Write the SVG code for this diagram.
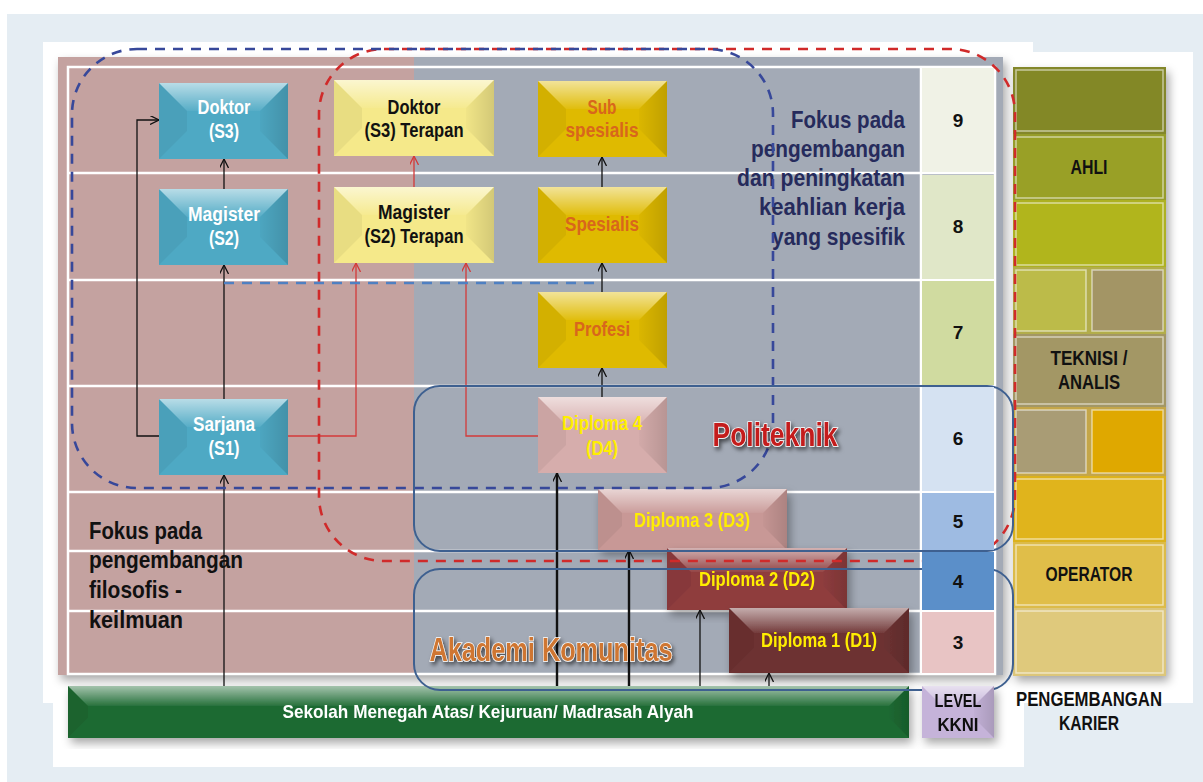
<svg xmlns="http://www.w3.org/2000/svg" width="1203" height="782" viewBox="0 0 1203 782">
<defs>
<style>
.t{font-family:"Liberation Sans",Arial,sans-serif;font-weight:bold;text-anchor:middle}
.nw{fill:#ffffff;font-size:20px}
.nb{fill:#111111;font-size:20px}
.no{fill:#d8661c;font-size:20px}
.ny{fill:#ffee00;font-size:20px}
.lv{fill:#111111;font-size:19px}
.cr{fill:#111111;font-size:20px}
.fr{fill:#262b5c;font-size:24px;text-anchor:end}
.fl{fill:#111111;font-size:24px;text-anchor:start}
.grid{stroke:#ffffff;stroke-width:2.5;fill:none}
.top{fill:url(#gTop)}
.lft{fill:#000000;fill-opacity:0.05}
.rgt{fill:url(#gRight)}
.cb{fill:none;stroke:#111111;stroke-width:1.3;marker-end:url(#ab)}
.cbt{fill:none;stroke:#111111;stroke-width:2.4;marker-end:url(#ab)}
.cr1{fill:none;stroke:#d33a3a;stroke-width:1.3;marker-end:url(#ar)}
.dsh{fill:none;stroke-width:2.6;stroke-dasharray:10 8}
.sol{fill:none;stroke:#3e6090;stroke-width:2}
.cell{stroke:#ffffff;stroke-opacity:0.55;stroke-width:1.5}
</style>
<linearGradient id="gTop" x1="0" y1="0" x2="0" y2="1">
<stop offset="0" stop-color="#ffffff" stop-opacity="0.6"/>
<stop offset="1" stop-color="#ffffff" stop-opacity="0.05"/>
</linearGradient>
<linearGradient id="gRight" x1="0" y1="0" x2="1" y2="0">
<stop offset="0" stop-color="#000000" stop-opacity="0.02"/>
<stop offset="1" stop-color="#000000" stop-opacity="0.14"/>
</linearGradient>
<filter id="sh" x="-10%" y="-10%" width="130%" height="130%">
<feDropShadow dx="3" dy="5" stdDeviation="5" flood-color="#000000" flood-opacity="0.35"/>
</filter>
<filter id="tsh" x="-10%" y="-20%" width="130%" height="160%">
<feDropShadow dx="2" dy="3" stdDeviation="2" flood-color="#000000" flood-opacity="0.6"/>
</filter>
<marker id="ab" viewBox="0 0 10 10" refX="10" refY="5" markerWidth="9" markerHeight="9" markerUnits="userSpaceOnUse" orient="auto">
<path d="M0,0 L10,5 L0,10" fill="none" stroke="#111111" stroke-width="1.4"/>
</marker>
<marker id="ar" viewBox="0 0 10 10" refX="10" refY="5" markerWidth="9" markerHeight="9" markerUnits="userSpaceOnUse" orient="auto">
<path d="M0,0 L10,5 L0,10" fill="none" stroke="#d33a3a" stroke-width="1.4"/>
</marker>
</defs>

<!-- page background -->
<rect x="0" y="0" width="1203" height="782" fill="#ffffff"/>
<rect x="7" y="14" width="1196" height="768" fill="#e5edf3"/>
<rect x="43" y="42" width="990" height="661" fill="#ffffff"/>
<rect x="998" y="52" width="195" height="651" fill="#ffffff"/>
<rect x="53" y="660" width="971" height="107" fill="#ffffff"/>

<!-- table background -->
<g id="table">
<rect x="58" y="57" width="945" height="618" fill="#a3aab6" filter="url(#sh)"/>
<rect x="58" y="57" width="356" height="618" fill="#c4a2a0"/>
<rect x="68" y="67" width="927" height="607" class="grid"/>
<path class="grid" d="M68,173 H995 M68,280 H995 M68,386 H995 M68,492 H995 M68,551 H995 M68,611 H995 M921,67 V674"/>
</g>

<!-- career column -->
<g id="career" filter="url(#sh)">
<rect x="1013" y="67" width="153" height="609" fill="#a7a04a"/>
<rect x="1013" y="67" width="153" height="67" fill="#83872a"/>
<rect x="1016" y="70" width="147" height="61" fill="#838827" class="cell"/>
<rect x="1013" y="134" width="153" height="66" fill="#969c2a"/>
<rect x="1016" y="137" width="147" height="61" fill="#99a028" class="cell"/>
<rect x="1013" y="200" width="153" height="67" fill="#adb122"/>
<rect x="1016" y="203" width="147" height="62" fill="#b1b51f" class="cell"/>
<rect x="1013" y="267" width="153" height="67" fill="#b2ad4c"/>
<rect x="1016" y="270" width="70" height="61" fill="#bcbb4a" class="cell"/>
<rect x="1092" y="270" width="71" height="61" fill="#a39565" class="cell"/>
<rect x="1013" y="334" width="153" height="73" fill="#a39765"/>
<rect x="1016" y="337" width="147" height="67" fill="#a39765" class="cell"/>
<rect x="1013" y="407" width="153" height="69" fill="#c4a648"/>
<rect x="1016" y="410" width="70" height="63" fill="#a99c75" class="cell"/>
<rect x="1092" y="410" width="71" height="63" fill="#dfa800" class="cell"/>
<rect x="1013" y="476" width="153" height="66" fill="#dcb21e"/>
<rect x="1016" y="479" width="147" height="60" fill="#e0b41e" class="cell"/>
<rect x="1013" y="542" width="153" height="66" fill="#dcbb48"/>
<rect x="1016" y="545" width="147" height="60" fill="#e0be4a" class="cell"/>
<rect x="1013" y="608" width="153" height="68" fill="#dcc67a"/>
<rect x="1016" y="611" width="147" height="62" fill="#dfc97c" class="cell"/>
</g>
<g id="career-labels">
<text class="t cr" x="1089" y="174" textLength="37" lengthAdjust="spacingAndGlyphs">AHLI</text>
<text class="t cr" x="1089" y="365" textLength="77" lengthAdjust="spacingAndGlyphs">TEKNISI /</text>
<text class="t cr" x="1089" y="389" textLength="62" lengthAdjust="spacingAndGlyphs">ANALIS</text>
<text class="t cr" x="1089" y="581" textLength="87" lengthAdjust="spacingAndGlyphs">OPERATOR</text>
<text class="t cr" x="1089" y="706" textLength="146" lengthAdjust="spacingAndGlyphs">PENGEMBANGAN</text>
<text class="t cr" x="1089" y="730" textLength="60" lengthAdjust="spacingAndGlyphs">KARIER</text>
</g>

<!-- focus texts -->
<g id="focus-right">
<text class="t fr" x="905" y="128" textLength="114" lengthAdjust="spacingAndGlyphs">Fokus pada</text>
<text class="t fr" x="905" y="157" textLength="154" lengthAdjust="spacingAndGlyphs">pengembangan</text>
<text class="t fr" x="905" y="186" textLength="168" lengthAdjust="spacingAndGlyphs">dan peningkatan</text>
<text class="t fr" x="905" y="215" textLength="146" lengthAdjust="spacingAndGlyphs">keahlian kerja</text>
<text class="t fr" x="905" y="245" textLength="133" lengthAdjust="spacingAndGlyphs">yang spesifik</text>
</g>
<g id="focus-left">
<text class="t fl" x="89" y="539" textLength="113" lengthAdjust="spacingAndGlyphs">Fokus pada</text>
<text class="t fl" x="89" y="568" textLength="154" lengthAdjust="spacingAndGlyphs">pengembangan</text>
<text class="t fl" x="89" y="598" textLength="93" lengthAdjust="spacingAndGlyphs">filosofis -</text>
<text class="t fl" x="89" y="628" textLength="94" lengthAdjust="spacingAndGlyphs">keilmuan</text>
</g>

<!-- nodes -->
<g id="doktor-s3">
<rect x="159" y="83" width="129" height="76" fill="#4ea9c4"/>
<polygon class="top" points="159,83 288,83 260,111 187,111"/>
<polygon class="lft" points="159,83 187,111 187,131 159,159"/>
<polygon class="rgt" points="288,83 260,111 260,131 288,159"/>
<text class="t nw" x="224" y="114" textLength="53" lengthAdjust="spacingAndGlyphs">Doktor</text>
<text class="t nw" x="224" y="138" textLength="30" lengthAdjust="spacingAndGlyphs">(S3)</text>
</g>
<g id="magister-s2">
<rect x="159" y="189" width="129" height="76" fill="#4ea9c4"/>
<polygon class="top" points="159,189 288,189 260,217 187,217"/>
<polygon class="lft" points="159,189 187,217 187,237 159,265"/>
<polygon class="rgt" points="288,189 260,217 260,237 288,265"/>
<text class="t nw" x="224" y="221" textLength="72" lengthAdjust="spacingAndGlyphs">Magister</text>
<text class="t nw" x="224" y="245" textLength="30" lengthAdjust="spacingAndGlyphs">(S2)</text>
</g>
<g id="sarjana-s1">
<rect x="159" y="399" width="129" height="76" fill="#4ea9c4"/>
<polygon class="top" points="159,399 288,399 260,427 187,427"/>
<polygon class="lft" points="159,399 187,427 187,447 159,475"/>
<polygon class="rgt" points="288,399 260,427 260,447 288,475"/>
<text class="t nw" x="224" y="431" textLength="62" lengthAdjust="spacingAndGlyphs">Sarjana</text>
<text class="t nw" x="224" y="455" textLength="31" lengthAdjust="spacingAndGlyphs">(S1)</text>
</g>
<g id="doktor-s3-terapan">
<rect x="334" y="80" width="160" height="76" fill="#f5e98a"/>
<polygon class="top" points="334,80 494,80 466,108 362,108"/>
<polygon class="lft" points="334,80 362,108 362,128 334,156"/>
<polygon class="rgt" points="494,80 466,108 466,128 494,156"/>
<text class="t nb" x="414" y="114" textLength="53" lengthAdjust="spacingAndGlyphs">Doktor</text>
<text class="t nb" x="414" y="137" textLength="99" lengthAdjust="spacingAndGlyphs">(S3) Terapan</text>
</g>
<g id="magister-s2-terapan">
<rect x="334" y="187" width="160" height="76" fill="#f5e98a"/>
<polygon class="top" points="334,187 494,187 466,215 362,215"/>
<polygon class="lft" points="334,187 362,215 362,235 334,263"/>
<polygon class="rgt" points="494,187 466,215 466,235 494,263"/>
<text class="t nb" x="414" y="219" textLength="72" lengthAdjust="spacingAndGlyphs">Magister</text>
<text class="t nb" x="414" y="243" textLength="99" lengthAdjust="spacingAndGlyphs">(S2) Terapan</text>
</g>
<g id="sub-spesialis">
<rect x="538" y="81" width="129" height="76" fill="#dfba00"/>
<polygon class="top" points="538,81 667,81 639,109 566,109"/>
<polygon class="lft" points="538,81 566,109 566,129 538,157"/>
<polygon class="rgt" points="667,81 639,109 639,129 667,157"/>
<text class="t no" x="602" y="114" textLength="29" lengthAdjust="spacingAndGlyphs">Sub</text>
<text class="t no" x="602" y="137" textLength="73" lengthAdjust="spacingAndGlyphs">spesialis</text>
</g>
<g id="spesialis">
<rect x="538" y="187" width="129" height="76" fill="#dfba00"/>
<polygon class="top" points="538,187 667,187 639,215 566,215"/>
<polygon class="lft" points="538,187 566,215 566,235 538,263"/>
<polygon class="rgt" points="667,187 639,215 639,235 667,263"/>
<text class="t no" x="602" y="231" textLength="74" lengthAdjust="spacingAndGlyphs">Spesialis</text>
</g>
<g id="profesi">
<rect x="538" y="292" width="129" height="76" fill="#dfba00"/>
<polygon class="top" points="538,292 667,292 639,320 566,320"/>
<polygon class="lft" points="538,292 566,320 566,340 538,368"/>
<polygon class="rgt" points="667,292 639,320 639,340 667,368"/>
<text class="t no" x="602" y="336" textLength="56" lengthAdjust="spacingAndGlyphs">Profesi</text>
</g>
<g id="diploma-4">
<rect x="538" y="397" width="129" height="76" fill="#d6adac"/>
<polygon class="top" points="538,397 667,397 639,425 566,425"/>
<polygon class="lft" points="538,397 566,425 566,445 538,473"/>
<polygon class="rgt" points="667,397 639,425 639,445 667,473"/>
<text class="t ny" x="602" y="430" textLength="80" lengthAdjust="spacingAndGlyphs">Diploma 4</text>
<text class="t ny" x="602" y="455" textLength="32" lengthAdjust="spacingAndGlyphs">(D4)</text>
</g>
<g id="diploma-3" filter="url(#sh)">
<rect x="598" y="489" width="189" height="61" fill="#c89896"/>
<polygon class="top" points="598,489 787,489 763,513 622,513"/>
<polygon class="lft" points="598,489 622,513 622,526 598,550"/>
<polygon class="rgt" points="787,489 763,513 763,526 787,550"/>
<text class="t ny" x="692" y="527" textLength="116" lengthAdjust="spacingAndGlyphs">Diploma 3 (D3)</text>
</g>
<g id="diploma-2" filter="url(#sh)">
<rect x="667" y="548" width="180" height="62" fill="#8f3d3e"/>
<polygon class="top" points="667,548 847,548 823,572 691,572"/>
<polygon class="lft" points="667,548 691,572 691,586 667,610"/>
<polygon class="rgt" points="847,548 823,572 823,586 847,610"/>
<text class="t ny" x="757" y="586" textLength="116" lengthAdjust="spacingAndGlyphs">Diploma 2 (D2)</text>
</g>
<g id="diploma-1" filter="url(#sh)">
<rect x="729" y="608" width="180" height="65" fill="#6d3232"/>
<polygon class="top" points="729,608 909,608 884,633 754,633"/>
<polygon class="lft" points="729,608 754,633 754,648 729,673"/>
<polygon class="rgt" points="909,608 884,633 884,648 909,673"/>
<text class="t ny" x="819" y="647" textLength="116" lengthAdjust="spacingAndGlyphs">Diploma 1 (D1)</text>
</g>
<g id="sekolah" filter="url(#sh)">
<rect x="68" y="686" width="841" height="52" fill="#1c6a32"/>
<polygon class="top" points="68,686 909,686 889,706 88,706"/>
<polygon class="lft" points="68,686 88,706 88,718 68,738"/>
<polygon class="rgt" points="909,686 889,706 889,718 909,738"/>
<text class="t nw" style="font-size:19px" x="488" y="718" textLength="411" lengthAdjust="spacingAndGlyphs">Sekolah Menegah Atas/ Kejuruan/ Madrasah Alyah</text>
</g>

<!-- connectors -->
<g id="connectors">
<path class="cb" d="M224,399 V265"/>
<path class="cb" d="M224,189 V159"/>
<path class="cb" d="M159,436 H137 V120 H159"/>
<path class="cb" d="M224,686 V475"/>
<path class="cb" d="M602,292 V263"/>
<path class="cb" d="M602,187 V157"/>
<path class="cb" d="M602,397 V368"/>
<path class="cbt" d="M557,686 V473"/>
<path class="cbt" d="M629,686 V550"/>
<path class="cb" d="M700,686 V610"/>
<path class="cb" d="M769,686 V673"/>
<path class="cr1" d="M288,436 H356 V263"/>
<path class="cr1" d="M414,187 V156"/>
<path class="cr1" d="M538,436 H466 V263"/>
</g>

<!-- groupings -->
<g id="regions">
<path class="dsh" stroke="#d02a2a" d="M384,49 H950 A65,65 0 0 1 1015,114 V496 A65,65 0 0 1 950,561 H384 A65,65 0 0 1 319,496 V114 A65,65 0 0 1 384,49 Z"/>
<path class="dsh" stroke="#37489a" d="M137,49 H708 A65,65 0 0 1 773,114 V423 A65,65 0 0 1 708,488 H137 A65,65 0 0 1 72,423 V114 A65,65 0 0 1 137,49 Z"/>
<path class="dsh" stroke="#4f80c2" stroke-width="2.2" d="M224,283 H602"/>
<rect class="sol" x="414" y="386" width="599" height="165" rx="26"/>
<rect class="sol" x="414" y="569" width="599" height="121" rx="26"/>
</g>

<!-- level column -->
<g id="level">
<rect x="922" y="68" width="72" height="104" fill="#f0f2e6"/>
<rect x="922" y="175" width="72" height="104" fill="#e0e7c8"/>
<rect x="922" y="281" width="72" height="104" fill="#d0dba0"/>
<rect x="922" y="387" width="72" height="104" fill="#d5e2f2"/>
<rect x="922" y="493" width="72" height="57" fill="#9ebbe2"/>
<rect x="922" y="552" width="72" height="58" fill="#5b8fc9"/>
<rect x="922" y="612" width="72" height="61" fill="#e8c4c4"/>
<text class="t lv" x="958" y="127">9</text>
<text class="t lv" x="958" y="233">8</text>
<text class="t lv" x="958" y="339">7</text>
<text class="t lv" x="958" y="445">6</text>
<text class="t lv" x="958" y="528">5</text>
<text class="t lv" x="958" y="588">4</text>
<text class="t lv" x="958" y="649">3</text>
</g>
<g id="level-kkni" filter="url(#sh)">
<rect x="922" y="686" width="72" height="52" fill="#c5b3d9"/>
<polygon class="top" points="922,686 994,686 974,706 942,706"/>
<polygon class="rgt" points="994,686 974,706 974,718 994,738"/>
<text class="t lv" x="958" y="707" textLength="47" lengthAdjust="spacingAndGlyphs">LEVEL</text>
<text class="t lv" x="958" y="731" textLength="41" lengthAdjust="spacingAndGlyphs">KKNI</text>
</g>

<!-- big labels -->
<g id="labels">
<text class="t" filter="url(#tsh)" style="fill:#c41e1e;font-size:33px;stroke:#ffffff;stroke-width:1.5;paint-order:stroke" x="775" y="446" textLength="125" lengthAdjust="spacingAndGlyphs">Politeknik</text>
<text class="t" filter="url(#tsh)" style="fill:#cf7630;font-size:33px;stroke:#ffffff;stroke-width:1.5;paint-order:stroke" x="551" y="661" textLength="243" lengthAdjust="spacingAndGlyphs">Akademi Komunitas</text>
</g>
</svg>
